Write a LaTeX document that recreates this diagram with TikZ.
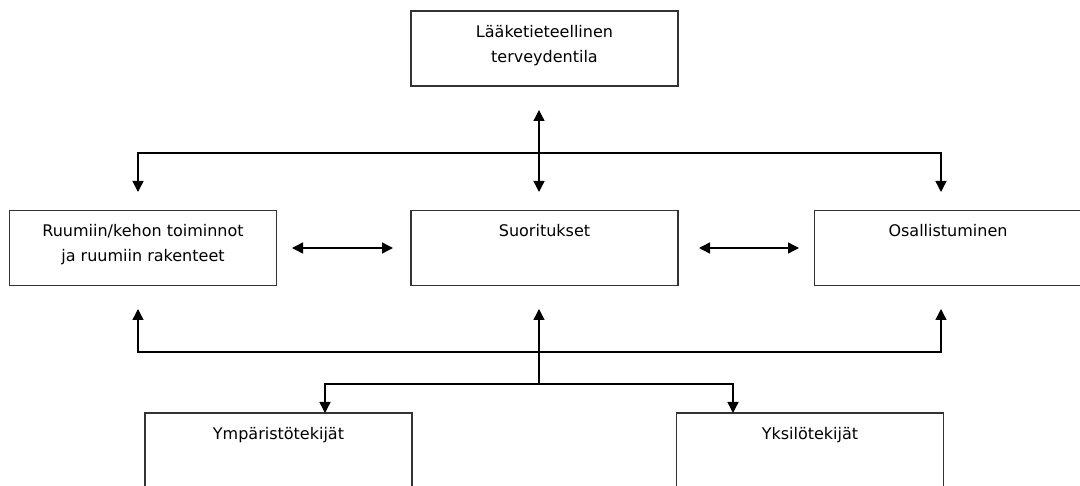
\documentclass[tikz,border=0pt]{standalone}
\usepackage{fontspec}
\setmainfont{DejaVu Sans}
\usetikzlibrary{arrows.meta}
\tikzset{
  box/.style={draw=black!80, line width=1.6pt, minimum width=267pt, minimum height=75pt, inner sep=0pt},
  link/.style={line width=1.4pt, black},
  tip/.tip={Triangle[length=11pt, width=11pt]}
}
\def\boxtext#1{\parbox[c][75pt][t]{262pt}{\centering\fontsize{16}{25}\selectfont\rule{0pt}{26.5pt}#1}}

\begin{document}
\begin{tikzpicture}[x=1pt, y=-1pt]
			%%%%% START %%%%%
			\useasboundingbox (0, 0) rectangle (1080, 486);
			
			\node[box] (health) at (544.5, 48.5) {\boxtext{Lääketieteellinen\\terveydentila}};
			
			\node[box] (body) at (143, 248) {\boxtext{Ruumiin/kehon toiminnot\\ja ruumiin rakenteet}};
			\node[box] (activity) at (544.5, 248) {\boxtext{Suoritukset}};
			\node[box] (particip) at (948, 248) {\boxtext{Osallistuminen}};
			
			\node[box] (environ) at (278.5, 450.5) {\boxtext{Ympäristötekijät}};
			\node[box] (personal) at (810, 450.5) {\boxtext{Yksilötekijät}};
			
			% upper connectors
			\coordinate (upTop) at (539, 110);
			\coordinate (upBot) at (539, 192);
			\coordinate (upHub) at (539, 153);
			\coordinate (upLeft) at (138, 192);
			\coordinate (upRight) at (941, 192);
			\draw[link, {tip}-{tip}] (upTop) -- (upBot);
			\draw[link, {tip}-{tip}] (upLeft) |- (upHub) -| (upRight);
			
			% middle row
			\coordinate (midA) at (292, 248);
			\coordinate (midB) at (393, 248);
			\coordinate (midC) at (699, 248);
			\coordinate (midD) at (799, 248);
			\draw[link, {tip}-{tip}] (midA) -- (midB);
			\draw[link, {tip}-{tip}] (midC) -- (midD);
			
			% lower connectors
			\coordinate (loLeft) at (138, 309);
			\coordinate (loRight) at (941, 309);
			\coordinate (loMid) at (539, 309);
			\coordinate (loHub) at (539, 352);
			\coordinate (ctxHub) at (539, 384);
			\coordinate (ctxLeft) at (325, 413);
			\coordinate (ctxRight) at (733, 413);
			\draw[link, {tip}-{tip}] (loLeft) |- (loHub) -| (loRight);
			\draw[link, -{tip}] (ctxHub) -- (loMid);
			\draw[link, {tip}-{tip}] (ctxLeft) |- (ctxHub) -| (ctxRight);
			
			%%%%% END %%%%%
		\end{tikzpicture}
\end{document}
